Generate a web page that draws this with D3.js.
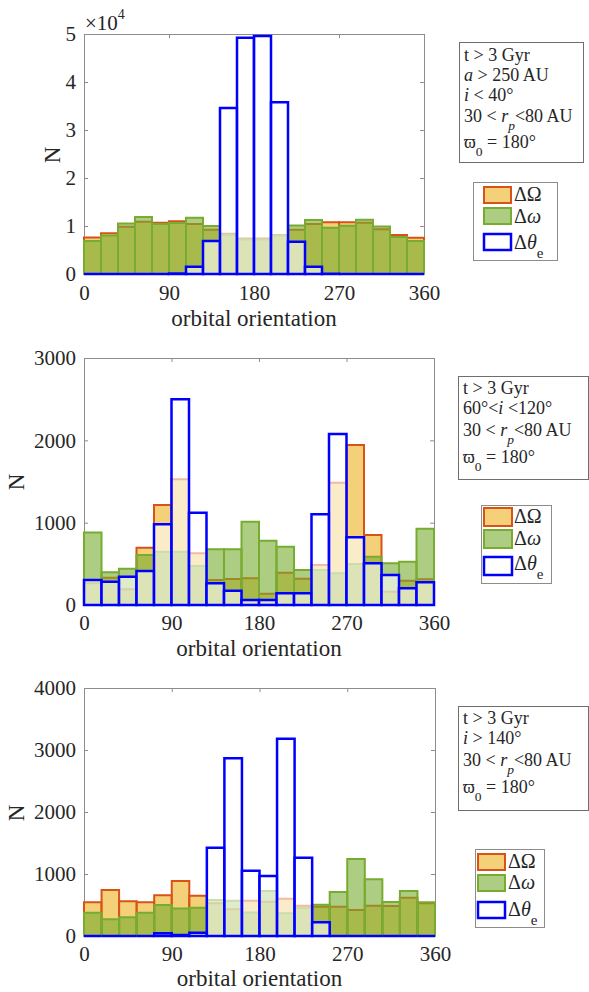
<!DOCTYPE html>
<html>
<head>
<meta charset="utf-8">
<script src="https://cdn.jsdelivr.net/npm/d3@7"></script>
<style>
  body { margin: 0; background: #fff; }
  svg text { font-family: "Liberation Serif", "Times New Roman", "DejaVu Serif", serif !important; fill: #262626; }
</style>
</head>
<body>
<svg id="chart" width="589" height="992"></svg>
<script>
// bin edges in degrees (20 bins of 18 deg)
const binEdges = d3.range(0, 361, 18);

// top panel: a > 250 AU, i < 40
const dOmega1 = [7600, 8500, 9850, 10900, 10700, 11000, 10400, 9200, 8400, 7400, 7400, 8100, 9200, 10400, 10800, 10800, 10700, 9300, 8100, 7550];
const dw1     = [6900, 8000, 10500, 11900, 10400, 10600, 11700, 10000, 8200, 7200, 7200, 8000, 10100, 11250, 9650, 10050, 11300, 9900, 7700, 6900];
const dTheta1 = [0, 0, 0, 0, 0, 100, 1500, 6850, 34600, 49200, 49600, 35800, 6700, 1500, 50, 0, 0, 0, 0, 0];

// middle panel: 60 < i < 120
const dOmega2 = [263, 332, 190, 696, 1215, 1526, 628, 304, 316, 324, 138, 393, 320, 486, 1486, 1943, 850, 162, 295, 312];
const dw2     = [880, 397, 441, 607, 648, 647, 474, 676, 676, 1010, 779, 709, 425, 425, 385, 498, 587, 506, 526, 927];
const dTheta2 = [303, 283, 344, 413, 980, 2500, 1121, 263, 174, 61, 61, 142, 142, 1101, 2077, 822, 506, 364, 202, 275];

// bottom panel: i > 140
const dOmega3 = [543, 742, 559, 543, 656, 887, 650, 530, 430, 570, 554, 602, 489, 473, 473, 419, 489, 484, 618, 530];
const dw3     = [376, 269, 301, 376, 500, 444, 457, 580, 570, 380, 726, 365, 452, 505, 710, 1242, 914, 548, 726, 543];
const dTheta3 = [0, 0, 0, 0, 43, 16, 54, 1425, 2866, 1054, 968, 3183, 1263, 220, 0, 0, 0, 0, 0, 0];

const xTicks = [0, 90, 180, 270, 360];
const yTicks1 = [0, 10000, 20000, 30000, 40000, 50000];
const yTicks2 = [0, 1000, 2000, 3000];
const yTicks3 = [0, 1000, 2000, 3000, 4000];

// info box lines: [text, style] segments
const info1 = [
  [["t > 3 Gyr", ""]],
  [["a", "i"], [" > 250 AU", ""]],
  [["i", "i"], [" < 40°", ""]],
  [["30 < ", ""], ["r", "i"], ["p", "isub"], ["<80 AU", ""]],
  [["ϖ", ""], ["0", "sub"], [" = 180°", ""]]
];
const info2 = [
  [["t > 3 Gyr", ""]],
  [["60°<", ""], ["i", "i"], [" <120°", ""]],
  [["30 < ", ""], ["r", "i"], ["p", "isub"], ["<80 AU", ""]],
  [["ϖ", ""], ["0", "sub"], [" = 180°", ""]]
];
const info3 = [
  [["t > 3 Gyr", ""]],
  [["i", "i"], [" > 140°", ""]],
  [["30 < ", ""], ["r", "i"], ["p", "isub"], ["<80 AU", ""]],
  [["ϖ", ""], ["0", "sub"], [" = 180°", ""]]
];

const legendLabels = [
  [["ΔΩ", ""]],
  [["Δ", ""], ["ω", "i"]],
  [["Δ", ""], ["θ", "i"], ["e", "sub"]]
];

const series = [
  {fill: "#EDB120", stroke: "#D95319", sw: 2},
  {fill: "#77AC30", stroke: "#77AC30", sw: 2},
  {fill: "#FFFFFF", stroke: "#0000FF", sw: 2.5}
];

const panels = [
  {data: [dOmega1, dw1, dTheta1], ymax: 50000, yTicks: yTicks1, fmt: d => d / 1e4,
   left: 84, right: 424, top: 34, bottom: 274, xlabY: 326, nX: 60, nY: 155, pad: 11,
   info: info1, box: [459, 42, 583, 162], infoX: 464, infoY: [61, 81, 101, 122, 148],
   leg: [473, 182, 557, 260], sw: [484, 511], rows: [187, 208, 234], rowH: 16, legX: 514, legY: [201, 223, 249]},
  {data: [dOmega2, dw2, dTheta2], ymax: 3000, yTicks: yTicks2, fmt: d => d,
   left: 84, right: 434, top: 358, bottom: 605, xlabY: 656, nX: 24, nY: 482, pad: 10,
   info: info2, box: [458, 376, 588, 479], infoX: 463, infoY: [394, 414, 436, 463],
   leg: [481, 505, 551, 583], sw: [484, 512], rows: [508, 530, 557], rowH: 18, legX: 514, legY: [523, 545, 570]},
  {data: [dOmega3, dw3, dTheta3], ymax: 4000, yTicks: yTicks3, fmt: d => d,
   left: 84, right: 435, top: 688, bottom: 936, xlabY: 986, nX: 24, nY: 813, pad: 10,
   info: info3, box: [458, 706, 588, 810], infoX: 463, infoY: [724, 744, 766, 793],
   leg: [475, 849, 544, 927], sw: [478, 505], rows: [854, 875, 902], rowH: 16, legX: 508, legY: [868, 889, 916]}
];

const svg = d3.select("#chart");

function richText(g, x, y, segs, size) {
  const t = g.append("text").attr("x", x).attr("y", y).attr("font-size", size);
  let shift = 0;
  segs.forEach(([s, st]) => {
    const ts = t.append("tspan").text(s);
    const sub = st === "sub" || st === "isub";
    if (st === "i" || st === "isub") ts.attr("font-style", "italic");
    const want = sub ? size * 0.45 : 0;
    if (want !== shift) { ts.attr("dy", want - shift); shift = want; }
    if (sub) ts.attr("font-size", size * 0.75);
  });
}

panels.forEach(p => {
  const g = svg.append("g");
  const x = d3.scaleLinear().domain([0, 360]).range([p.left, p.right]);
  const y = d3.scaleLinear().domain([0, p.ymax]).range([p.bottom, p.top]);

  // axes box and ticks
  const axisStyle = sel => {
    sel.attr("font-family", null);
    sel.selectAll(".domain").attr("stroke", "#8c8c8c");
    sel.selectAll(".tick line").attr("stroke", "#8c8c8c");
    sel.selectAll("text").attr("font-size", 21).attr("fill", "#262626");
  };
  g.append("g").attr("transform", `translate(0,${p.bottom})`)
    .call(d3.axisBottom(x).tickValues(xTicks).tickSize(-4).tickSizeOuter(0).tickPadding(p.pad))
    .call(axisStyle);
  g.append("g").attr("transform", `translate(0,${p.top})`)
    .call(d3.axisTop(x).tickValues(xTicks).tickSize(-4).tickSizeOuter(0).tickFormat(""))
    .call(axisStyle);
  g.append("g").attr("transform", `translate(${p.left},0)`)
    .call(d3.axisLeft(y).tickValues(p.yTicks).tickFormat(p.fmt).tickSize(-4).tickSizeOuter(0).tickPadding(8))
    .call(axisStyle);
  g.append("g").attr("transform", `translate(${p.right},0)`)
    .call(d3.axisRight(y).tickValues(p.yTicks).tickSize(-4).tickSizeOuter(0).tickFormat(""))
    .call(axisStyle);

  // histogram bars
  p.data.forEach((vals, si) => {
    const s = series[si];
    g.append("g").selectAll("path")
      .data(vals.map((v, i) => ({x0: binEdges[i], x1: binEdges[i + 1], v})))
      .join("path")
        .attr("d", d => `M${x(d.x0)},${y(0)}V${y(d.v)}H${x(d.x1)}V${y(0)}Z`)
        .attr("fill", s.fill)
        .attr("fill-opacity", 0.6)
        .attr("stroke", s.stroke)
        .attr("stroke-width", s.sw);
  });

  // labels
  g.append("text").attr("x", (p.left + p.right) / 2).attr("y", p.xlabY)
    .attr("text-anchor", "middle").attr("font-size", 23).text("orbital orientation");
  g.append("text").attr("transform", `translate(${p.nX},${p.nY}) rotate(-90)`)
    .attr("text-anchor", "middle").attr("font-size", 23).text("N");

  // info box
  const [bx0, by0, bx1, by1] = p.box;
  g.append("rect").attr("x", bx0 + 0.5).attr("y", by0 + 0.5).attr("width", bx1 - bx0).attr("height", by1 - by0)
    .attr("fill", "#fff").attr("stroke", "#6e6e6e");
  p.info.forEach((segs, i) => richText(g, p.infoX, p.infoY[i], segs, 18));

  // legend
  const [lx0, ly0, lx1, ly1] = p.leg;
  g.append("rect").attr("x", lx0 + 0.5).attr("y", ly0 + 0.5).attr("width", lx1 - lx0).attr("height", ly1 - ly0)
    .attr("fill", "#fff").attr("stroke", "#8c8c8c");
  series.forEach((s, i) => {
    g.append("rect").attr("x", p.sw[0]).attr("y", p.rows[i])
      .attr("width", p.sw[1] - p.sw[0]).attr("height", p.rowH)
      .attr("fill", s.fill).attr("fill-opacity", 0.6)
      .attr("stroke", s.stroke).attr("stroke-width", s.sw);
    richText(g, p.legX, p.legY[i], legendLabels[i], 20);
  });
});

// exponent label on the top panel
const ex = svg.append("text").attr("x", 85).attr("y", 30).attr("font-size", 21);
ex.append("tspan").text("×10");
ex.append("tspan").attr("dy", -11).attr("font-size", 14).text("4");
</script>
</body>
</html>
